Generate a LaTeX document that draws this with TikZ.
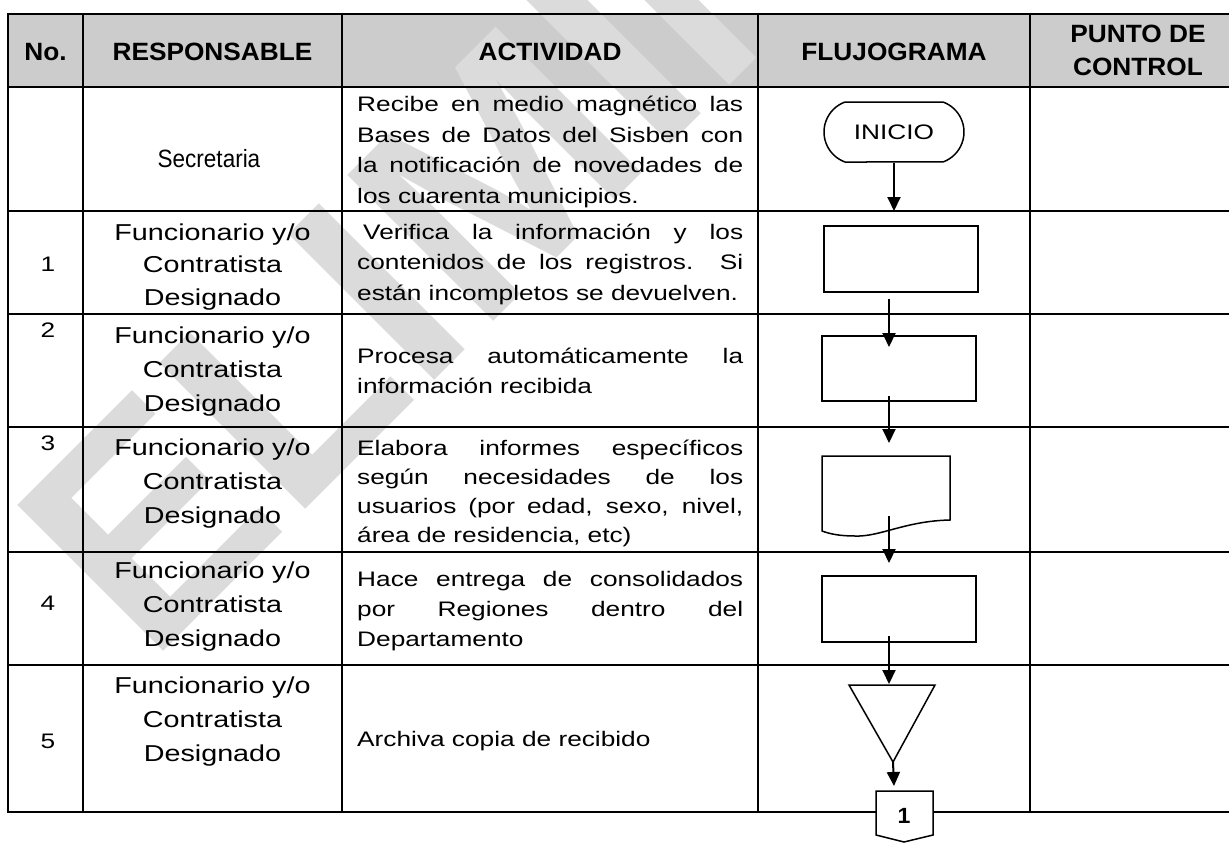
\documentclass[tikz,border=0pt]{standalone}
\usepackage{fontspec}
\setmainfont{Liberation Sans}
\newfontfamily\bodyf{Liberation Sans}[FakeStretch=1.25]
\newfontfamily\headf{Liberation Sans}[FakeStretch=1.05]
\newfontfamily\narrowf{Liberation Sans}[FakeStretch=0.9]
\newfontfamily\wmf{Liberation Sans}
\usetikzlibrary{arrows.meta,shapes.misc}
\definecolor{hdr}{RGB}{204,204,204}
\definecolor{wmc}{RGB}{219,219,219}
\begin{document}
\begin{tikzpicture}[x=1pt,y=-1pt,
  gridline/.style={line width=2.5pt},
  box/.style={draw, line width=1.5pt, inner sep=0pt},
  flow/.style={line width=2pt, -{Triangle[length=14pt,width=13pt]}},
  hd/.style={font=\headf\bfseries\fontsize{25}{32}\selectfont, align=center, inner sep=0pt},
  num/.style={font=\bodyf\fontsize{21}{24}\selectfont, inner sep=0pt},
  resp/.style={font=\bodyf\fontsize{23}{34}\selectfont, text width=236pt, align=center, inner sep=0pt},
  act/.style={font=\bodyf\fontsize{21}{30.5}\selectfont, text width=386pt, align=justify, inner sep=0pt},
  wm/.style={font=\wmf\bfseries\fontsize{300}{300}\selectfont, text=wmc, inner sep=0pt}
]
\useasboundingbox (0,0) rectangle (1229,843);
\fill[white] (0,0) rectangle (1229,843);
\fill[hdr] (8,14) rectangle (1235,87);
% watermark
\node[wm, rotate=45, anchor=base west] (wmark) at (149.5,665.5) {ELIMINADO};
% grid
\draw[gridline] (1240,14) -- (8,14) -- (8,812) -- (1240,812);
\foreach \yy in {87,211,314,427,552,665} \draw[gridline] (8,\yy) -- (1240,\yy);
\foreach \xx in {83,342,758,1030} \draw[gridline] (\xx,14) -- (\xx,812);
% header
\node[hd, anchor=base] (hno) at (45.5,60) {No.};
\node[hd, anchor=base] (hresp) at (212.5,60) {RESPONSABLE};
\node[hd, anchor=base] (hact) at (550,60) {ACTIVIDAD};
\node[hd, anchor=base] (hflu) at (894,60) {FLUJOGRAMA};
\node[hd, anchor=base] (hpc1) at (1138,43) {PUNTO DE};
\node[hd, anchor=base] (hpc2) at (1138,75) {CONTROL};
% numbers
\node[num, anchor=base] (n1) at (48,271) {1};
\node[num, anchor=base] (n2) at (48,337) {2};
\node[num, anchor=base] (n3) at (48,450) {3};
\node[num, anchor=base] (n4) at (48,610) {4};
\node[num, anchor=base] (n5) at (48,748) {5};
% responsables
\node[resp, anchor=base, font=\narrowf\fontsize{25}{30}\selectfont] (r0) at (209,167) {Secretaria};
\node[resp, anchor=base, font=\bodyf\fontsize{23}{32.5}\selectfont] (r1) at (212.5,240) {Funcionario y/o\\Contratista\\Designado};
\node[resp, anchor=base] (r2) at (212.5,343) {Funcionario y/o\\Contratista\\Designado};
\node[resp, anchor=base] (r3) at (212.5,455) {Funcionario y/o\\Contratista\\Designado};
\node[resp, anchor=base] (r4) at (212.5,578) {Funcionario y/o\\Contratista\\Designado};
\node[resp, anchor=base] (r5) at (212.5,693) {Funcionario y/o\\Contratista\\Designado};
% actividades
\node[act, anchor=base west] (t0) at (357,111.7) {Recibe en medio magnético las\linebreak Bases de Datos del Sisben con\linebreak la notificación de novedades de\linebreak los cuarenta municipios.};
\node[act, anchor=base west] (t1) at (357,239.3) {\hspace*{6pt}Verifica la información y los\linebreak contenidos de los registros. Si\linebreak están incompletos se devuelven.};
\node[act, anchor=base west] (t2) at (357,363.3) {Procesa automáticamente la\linebreak información recibida};
\node[act, anchor=base west, font=\bodyf\fontsize{21}{29.3}\selectfont] (t3) at (357,455) {Elabora informes específicos\linebreak según necesidades de los\linebreak usuarios (por edad, sexo, nivel,\linebreak área de residencia, etc)};
\node[act, anchor=base west, font=\bodyf\fontsize{21}{30}\selectfont] (t4) at (357,586.7) {Hace entrega de consolidados\linebreak por Regiones dentro del\linebreak Departamento};
\node[act, anchor=base west] (t5) at (357,746.7) {Archiva copia de recibido};
% flowchart
\node[box, rounded rectangle, rounded rectangle arc length=140, minimum width=140pt, minimum height=60pt, font=\bodyf\fontsize{21}{24}\selectfont] (inicio) at (894,132) {INICIO};
\node[box, minimum width=154pt, minimum height=66pt] (b1) at (901,259) {};
\node[box, minimum width=154pt, minimum height=65pt] (b2) at (899,368.5) {};
\draw[line width=1.5pt] (822,456) -- (950,456) -- (950,520)
  .. controls (905,521) and (880,537) .. (855,536)
  .. controls (840,536) and (830,534) .. (822,531) -- cycle;
\coordinate (doc) at (886,490);
\node[box, minimum width=154pt, minimum height=66pt] (b4) at (899,609) {};
\draw[line width=1.5pt] (849,685) -- (935,685) -- (893,762) -- cycle;
\coordinate (tri) at (893,762);
\draw[line width=1.5pt, fill=white] (876,791) -- (933,791) -- (933,835) -- (904,842) -- (876,835) -- cycle;
\coordinate (conn) at (904,791);
\node[font=\headf\bfseries\fontsize{22}{24}\selectfont, inner sep=0pt] (c1) at (904,816) {1};
% connectors
\coordinate (a0e) at (894,211);
\draw[flow] (inicio.south) -- (a0e);
\coordinate (a1s) at (889,299); \coordinate (a1e) at (889,347);
\draw[flow] (a1s) -- (a1e);
\coordinate (a2s) at (889,396); \coordinate (a2e) at (889,443);
\draw[flow] (a2s) -- (a2e);
\coordinate (a3s) at (889,516); \coordinate (a3e) at (889,563);
\draw[flow] (a3s) -- (a3e);
\coordinate (a4s) at (889,636); \coordinate (a4e) at (889,684);
\draw[flow] (a4s) -- (a4e);
\coordinate (a5e) at (894,786);
\draw[flow] (tri) -- (a5e);
\end{tikzpicture}
\end{document}
